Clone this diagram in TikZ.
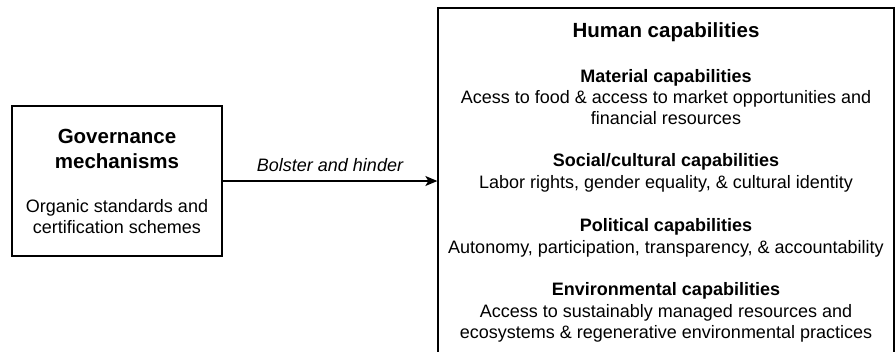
\documentclass[tikz,border=0pt]{standalone}
\usepackage{fontspec}
\setmainfont{Liberation Sans}
\usetikzlibrary{arrows.meta}

\begin{document}
\begin{tikzpicture}[x=1pt, y=-1pt,
  box/.style={draw, line width=1.3pt, inner sep=0pt},
  head/.style={font=\fontsize{20.5}{25}\selectfont\bfseries, inner sep=0pt, anchor=base, align=center},
  sub/.style={font=\fontsize{18}{21}\selectfont\bfseries, inner sep=0pt, anchor=base},
  txt/.style={font=\fontsize{18}{21}\selectfont, inner sep=0pt, anchor=base, align=center}]
\useasboundingbox (0,0) rectangle (896,351);

% multi-line nodes sit on the baseline of their last line
\node[box, minimum width=210pt, minimum height=150pt] (gov) at (117,181) {};
\node[head] (govtitle) at (117,168) {Governance\\mechanisms};
\node[txt] (govtext) at (117,233) {Organic standards and\\certification schemes};

\node[box, minimum width=456pt, minimum height=360pt] (cap) at (666,188) {};
\node[head] (captitle) at (666,37) {Human capabilities};

\node[sub] (mat) at (666,82) {Material capabilities};
\node[txt] (mattext) at (666,124) {Acess to food \& access to market opportunities and\\financial resources};

\node[sub] (soc) at (666,166) {Social/cultural capabilities};
\node[txt] (soctext) at (666,188) {Labor rights, gender equality, \& cultural identity};

\node[sub] (pol) at (666,231) {Political capabilities};
\node[txt] (poltext) at (666,253) {Autonomy, participation, transparency, \& accountability};

\node[sub] (env) at (666,295) {Environmental capabilities};
\node[txt] (envtext) at (666,338) {Access to sustainably managed resources and\\ecosystems \& regenerative environmental practices};

\draw[-{Stealth[length=12pt, width=10pt, inset=3pt]}, line width=1.3pt] (gov.east) -- (cap.west |- gov.east)
  node[midway, above=9pt, inner sep=0pt, font=\fontsize{18}{21}\selectfont\itshape] (lbl) {Bolster and hinder};
\end{tikzpicture}
\end{document}
